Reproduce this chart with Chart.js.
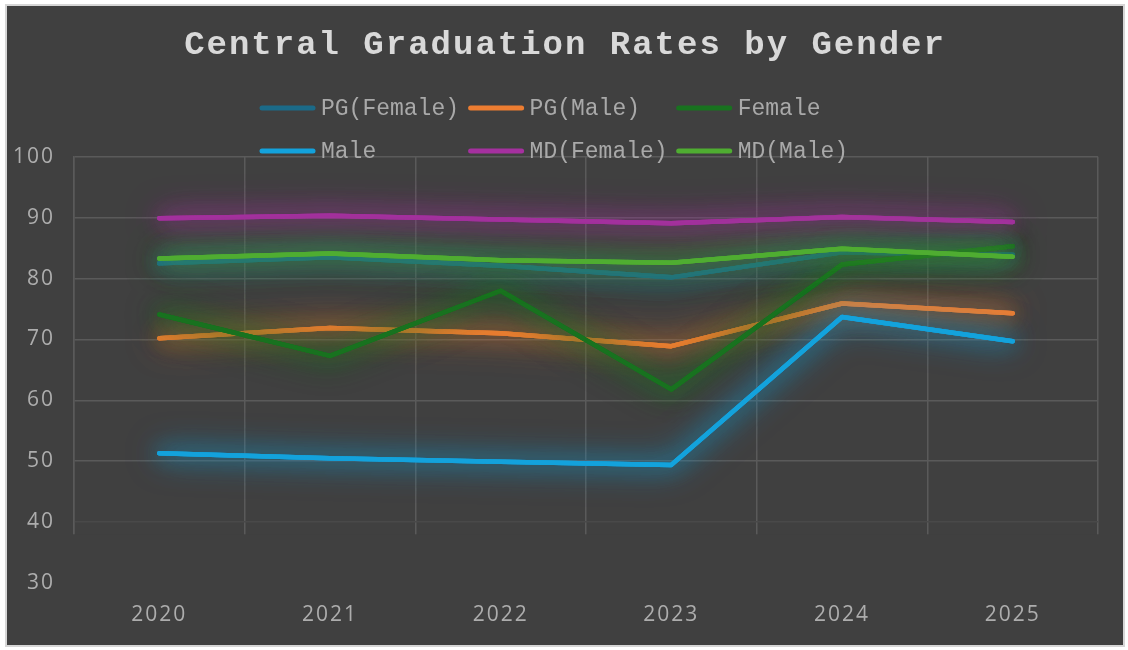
<!DOCTYPE html>
<html>
<head>
<meta charset="utf-8">
<script src="https://cdn.jsdelivr.net/npm/chart.js@4/dist/chart.umd.min.js"></script>
<style>
  html, body { margin: 0; padding: 0; background: #ffffff; }
  #frame { position: absolute; left: 5px; top: 4px; width: 1116px; height: 639px;
           border: 2px solid #d6d6d6; background: #404040; }
  #frame canvas { display: block; }
</style>
</head>
<body>
<div id="frame"><canvas id="c" width="1116" height="639"></canvas></div>
<script>
// ---- data ----
const years = ['2020', '2021', '2022', '2023', '2024', '2025'];
const seriesNames = ['PG(Female)', 'PG(Male)', 'Female', 'Male', 'MD(Female)', 'MD(Male)'];
const pgFemale = [82.5, 83.5, 82.1, 80.2, 84.3, 83.9];
const pgMale   = [70.2, 71.9, 71.0, 68.9, 75.9, 74.3];
const female   = [74.1, 67.3, 78.0, 61.8, 82.3, 85.3];
const male     = [51.3, 50.5, 49.9, 49.4, 73.7, 69.7];
const mdFemale = [89.9, 90.3, 89.7, 89.1, 90.1, 89.3];
const mdMale   = [83.3, 84.1, 83.0, 82.6, 84.9, 83.6];
const yTicks = [30, 40, 50, 60, 70, 80, 90, 100];
const chartTitle = 'Central Graduation Rates by Gender';

// ---- styles ----
const colors = ['#1b6a88', '#ed7d31', '#18721f', '#13a2dc', '#a5309f', '#4fad31'];
const glows  = ['rgba(27,106,136,0.9)', 'rgba(237,125,49,0.75)', 'rgba(24,114,31,0.9)',
                'rgba(19,162,220,0.75)', 'rgba(165,48,159,0.85)', 'rgba(79,173,49,0.75)'];
const seriesData = [pgFemale, pgMale, female, male, mdFemale, mdMale];

const datasets = seriesData.map((d, i) => ({
  label: seriesNames[i],
  data: d,
  borderColor: colors[i],
  backgroundColor: colors[i],
  borderWidth: 4.5,
  pointRadius: 0,
  pointHoverRadius: 0,
  tension: 0,
  fill: false,
  borderCapStyle: 'round',
  borderJoinStyle: 'round',
  order: seriesData.length - i
}));

const glowPlugin = {
  id: 'glow',
  beforeDatasetDraw(chart, args) {
    const ctx = chart.ctx;
    ctx.save();
    ctx.shadowColor = glows[args.index];
    ctx.shadowBlur = 34;
    ctx.shadowOffsetX = 0;
    ctx.shadowOffsetY = 0;
    // extra glow passes using the library's own line element
    if (args.meta && args.meta.dataset) {
      args.meta.dataset.draw(ctx, chart.chartArea);
      args.meta.dataset.draw(ctx, chart.chartArea);
    }
    ctx.shadowBlur = 20;
  },
  afterDatasetDraw(chart) {
    chart.ctx.restore();
  }
};

const spacingPlugin = {
  id: 'spacing',
  beforeDraw(chart) { chart.ctx.letterSpacing = '2px'; },
  beforeLayout(chart) { chart.ctx.letterSpacing = '2px'; },
  beforeDatasetsDraw(chart) {
    // cover the lower part of the plot area where the reference shows no grid
    const ctx = chart.ctx, a = chart.chartArea, ys = chart.scales.y;
    const yCut = ys.getPixelForValue(38);
    ctx.save();
    ctx.fillStyle = '#404040';
    ctx.fillRect(a.left - 2, yCut, a.right - a.left + 4, a.bottom - yCut + 2);
    ctx.restore();
  }
};

const legendPlugin = {
  id: 'gridLegend',
  afterDraw(chart) {
    const ctx = chart.ctx;
    const colX = [253, 461.6, 669.7];
    const rowY = [102, 145];
    ctx.save();
    ctx.letterSpacing = '0px';
    ctx.font = '23px "Liberation Mono", "Courier New", monospace';
    ctx.textBaseline = 'middle';
    ctx.textAlign = 'left';
    chart.data.datasets.forEach((ds, i) => {
      const x = colX[i % 3], y = rowY[Math.floor(i / 3)];
      ctx.strokeStyle = ds.borderColor;
      ctx.lineWidth = 5;
      ctx.lineCap = 'round';
      ctx.beginPath();
      ctx.moveTo(x + 2, y);
      ctx.lineTo(x + 53, y);
      ctx.stroke();
      ctx.fillStyle = '#a9a9a9';
      ctx.fillText(ds.label, x + 61, y + 1);
    });
    ctx.restore();
  }
};

new Chart(document.getElementById('c'), {
  type: 'line',
  data: { labels: years, datasets },
  plugins: [spacingPlugin, glowPlugin, legendPlugin],
  options: {
    responsive: false,
    animation: false,
    layout: { padding: 0 },
    plugins: {
      legend: { display: false },
      tooltip: { enabled: false },
      title: {
        display: true,
        text: chartTitle,
        color: '#d9d9d9',
        font: { family: '"Liberation Mono", "Courier New", monospace', size: 34, weight: 'bold' },
        padding: { top: 19, bottom: 91 }
      }
    },
    scales: {
      x: {
        offset: true,
        grid: { offset: true, color: '#5a5a5a', lineWidth: 1.5, drawTicks: false },
        border: { display: false },
        ticks: { color: '#adadad', padding: 19,
                 font: { family: '"Open Sans", sans-serif', size: 21 } },
        afterFit(s) { s.height = 62; }
      },
      y: {
        min: 30, max: 100,
        afterBuildTicks(s) { s.ticks = yTicks.map(v => ({ value: v })); },
        grid: {
          drawTicks: false,
          lineWidth: 1.5,
          color: (c) => c.tick && c.tick.value === 30 ? 'rgba(0,0,0,0)'
                      : (c.tick && c.tick.value === 40 ? '#494949' : '#5a5a5a')
        },
        border: { display: true, color: '#5a5a5a', width: 1.5 },
        ticks: { color: '#adadad', padding: 19,
                 font: { family: '"Open Sans", sans-serif', size: 21 } },
        afterFit(s) { s.width = 67; }
      },
      yRight: {
        position: 'right',
        min: 30, max: 100,
        grid: { display: false, drawTicks: false },
        border: { display: false },
        ticks: { display: false },
        afterFit(s) { s.width = 25; }
      }
    }
  }
});
</script>
</body>
</html>
